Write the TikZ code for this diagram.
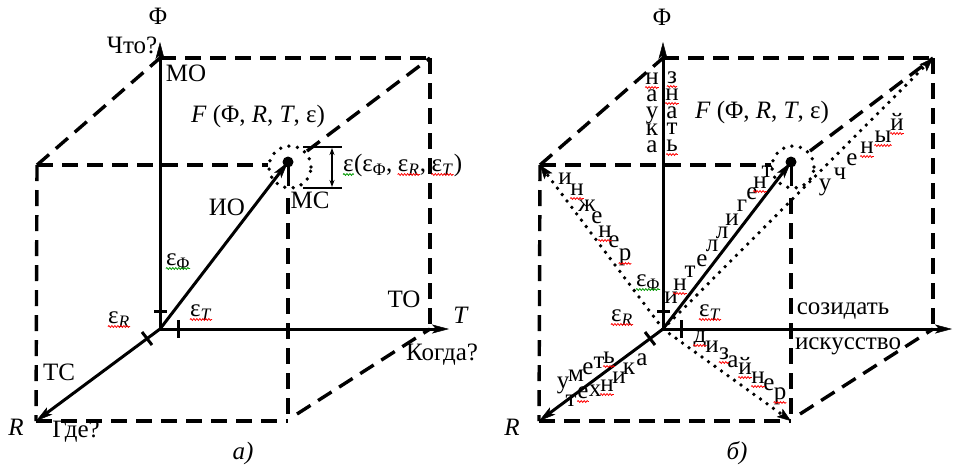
\documentclass[tikz,border=0pt]{standalone}
\usepackage{fontspec}
\setmainfont{Liberation Serif}
\usetikzlibrary{arrows.meta,decorations.pathmorphing,calc}
\tikzset{
  edge/.style={line width=3.4pt, dash pattern=on 16pt off 9pt},
  axis/.style={line width=3pt, -{Stealth[length=17pt,width=9pt,inset=4pt,line width=0.5pt]}},
  solidln/.style={line width=3pt},
  tickln/.style={line width=3pt},
  dotln/.style={line width=3.8pt, line cap=round, dash pattern=on 0pt off 8pt},
  dotarrow/.style={dotln, -{Stealth[length=14pt,width=10pt,inset=3pt,line width=0.5pt]}},
  dotc/.style={line width=3.8pt, line cap=round, dash pattern=on 0pt off 8.5pt},
  lbl/.style={inner sep=0pt, text height=0.66em, text depth=0pt},
  letter/.style={inner sep=0pt, text height=1ex, text depth=0pt},
  sqr/.style={draw=red, line width=0.8pt, decorate, decoration={snake, amplitude=0.9pt, segment length=3pt}},
  sqg/.style={sqr, draw=green!60!black},
}
\newcommand\squig[2]{\draw[#1] ([yshift=-3pt]#2.south west) -- ([yshift=-3pt]#2.south east);}
\begin{document}
\begin{tikzpicture}[x=1pt,y=-1pt,font=\fontsize{25pt}{29pt}\selectfont]
\useasboundingbox (0,0) rectangle (965,464);

\foreach \s/\p in {0/L,503/R}{
 \begin{scope}[xshift=\s pt]
  \coordinate (\p O) at (160,329);
  \coordinate (\p Ft) at (160,42);
  \coordinate (\p Tt) at (449,329);
  \coordinate (\p A) at (37,165);
  \coordinate (\p B) at (288,165);
  \coordinate (\p C) at (288,421);
  \coordinate (\p D) at (36,421);
  \coordinate (\p E) at (160,58);
  \coordinate (\p G) at (430,58);
  \coordinate (\p H) at (430,329);
  \coordinate (\p P) at (288,162);
  \coordinate (\p Pc) at (290,167);
  \coordinate (\p Bl) at (268,165);
  \coordinate (\p Bu) at (307,151);
  \coordinate (\p Bd) at (288,198);
  \coordinate (\p Pd) at (288,186);
  \coordinate (\p Cr) at (297,414);
  % dashed cube edges
  \draw[edge] (\p A) -- (\p D);
  \draw[edge] (\p D) -- (\p C);
  \draw[edge] (\p Bd) -- (\p C);
  \draw[edge] (\p A) -- (\p Bl);
  \draw[edge] (\p A) -- (\p E);
  \draw[edge] (\p E) -- (\p G);
  \draw[edge] (\p G) -- (\p H);
  \draw[edge] (\p Bu) -- (\p G);
  \draw[edge] (\p Cr) -- (\p H);
  % axes
  \draw[axis] (\p O) -- (\p Ft);
  \draw[axis] (\p O) -- (\p Tt);
  \draw[axis] (\p O) -- (\p D);
  \draw[axis] (\p O) -- (\p P);
  \draw[solidln] (\p P) -- (\p Pd);
  % ticks
  \draw[tickln] (154,311) -- (167,311);
  \draw[tickln] (178,320) -- (178,338);
  \draw[tickln] (142,332) -- (152,345);
  % point and tolerance circle
  \fill (\p P) circle (5.5pt);
  \draw[dotc] (\p Pc) circle (21pt);
 \end{scope}
}

% ---------- left panel ----------
\coordinate (bt1) at (303,147); \coordinate (bt2) at (342,147);
\coordinate (bb1) at (303,188); \coordinate (bb2) at (342,188);
\coordinate (bv1) at (332,148); \coordinate (bv2) at (332,187);
\draw[line width=2pt] (bt1) -- (bt2);
\draw[line width=2pt] (bb1) -- (bb2);
\draw[line width=1.2pt, {Stealth[length=7pt,width=5pt]}-{Stealth[length=7pt,width=5pt]}] (bv1) -- (bv2);

\node[lbl] (LPhi) at (158,21) {Φ};
\node[lbl] (Lwhat) at (132,50) {Что?};
\node[lbl] (LMO) at (186,78) {МО};
\node[lbl] (LF) at (258,119) {\textit{F} (Φ, \textit{R}, \textit{T}, ε)};
\node[lbl] (LIO) at (227,212) {ИО};
\node[lbl] (LMS) at (310,205) {МС};
\node[letter] (LeF) at (178,263) {ε\textsubscript{Φ}};
\node[letter] (LeT) at (201,314) {ε\textsubscript{\textit{T}}};
\node[letter] (LeR) at (119,321) {ε\textsubscript{\textit{R}}};
\node[lbl] (LTO) at (404,304) {ТО};
\node[lbl] (LT) at (461,320) {\textit{T}};
\node[lbl] (Lwhen) at (442,357) {Когда?};
\node[lbl] (LTS) at (59,377) {ТС};
\node[lbl] (LR) at (16,432) {\textit{R}};
\node[lbl] (Lwhere) at (76,434) {Где?};
\node[letter] (La) at (243,457) {\textit{а)}};

\node[letter, anchor=west] (Lb1) at (343,169) {ε};
\node[letter, anchor=base west] (Lb2) at (Lb1.base east) {(ε\textsubscript{Φ},};
\node[letter, anchor=base west] (Lb3) at ([xshift=5pt]Lb2.base east) {ε\textsubscript{\textit{R}}};
\node[letter, anchor=base west] (Lb4) at (Lb3.base east) {,};
\node[letter, anchor=base west] (Lb5) at ([xshift=5pt]Lb4.base east) {ε\textsubscript{\textit{T}}};
\node[letter, anchor=base west] (Lb6) at (Lb5.base east) {)};

\squig{sqg}{LeF}
\squig{sqr}{LeT}
\squig{sqr}{LeR}
\squig{sqg}{Lb1}
\squig{sqr}{Lb3}
\squig{sqr}{Lb5}

% ---------- right panel ----------
\draw[dotarrow] (RO) -- (RA);
\draw[dotarrow] (RO) -- (RC);
\draw[dotarrow] (RO) -- (RG);

\node[lbl] (RPhi) at (662,22) {Φ};
\node[lbl] (RF) at (762,115) {\textit{F} (Φ, \textit{R}, \textit{T}, ε)};
\node[letter] (ReF) at (648,284) {ε\textsubscript{Φ}};
\node[letter] (ReR) at (622,319) {ε\textsubscript{\textit{R}}};
\node[letter] (ReT) at (710,314) {ε\textsubscript{\textit{T}}};
\node[letter] (Rsoz) at (843,312) {созидать};
\node[letter] (Risk) at (848,347) {искусство};
\node[lbl] (RR) at (512,432) {\textit{R}};
\node[lbl] (RT) at (972,321) {\textit{T}};
\node[lbl] (Rb) at (737,456) {\textit{б)}};

\foreach \ch/\x/\y [count=\i] in {н/652/82, а/652/99, у/652/116, к/652/133, а/652/150}
  {\node[letter] (nk\i) at (\x,\y) {\ch};}
\foreach \ch/\x/\y [count=\i] in {з/672/81, н/672/98, а/672/116, т/672/132, ь/672/149}
  {\node[letter] (zn\i) at (\x,\y) {\ch};}
\foreach \ch/\x/\y [count=\i] in {и/565/182, н/577/193, ж/587/209, е/597/221, н/605/235, е/614/245, р/625/258}
  {\node[letter] (in\i) at (\x,\y) {\ch};}
\foreach \ch/\x/\y [count=\i] in {и/671/301, н/680/288, т/690/275, е/702/264, л/712/249, л/722/236, и/732/223, г/742/209, е/752/197, н/760/186, т/767/175}
  {\node[letter] (it\i) at (\x,\y) {\ch};}
\foreach \ch/\x/\y [count=\i] in {у/825/188, ч/840/177, е/852/163, н/867/151, ы/883/140, й/897/128}
  {\node[letter] (uc\i) at (\x,\y) {\ch};}
\foreach \ch/\x/\y [count=\i] in {у/563/386, м/576/379, е/588/372, т/599/366, ь/609/361}
  {\node[letter] (um\i) at (\x,\y) {\ch};}
\foreach \ch/\x/\y [count=\i] in {т/571/404, е/583/396, х/595/394, н/607/389, и/619/381, к/629/372, а/642/363}
  {\node[letter] (te\i) at (\x,\y) {\ch};}
\foreach \ch/\x/\y [count=\i] in {д/700/340, и/712/350, з/724/357, а/733/365, й/745/372, н/758/381, е/769/388, р/780/397}
  {\node[letter] (di\i) at (\x,\y) {\ch};}

\squig{sqg}{ReF}
\squig{sqr}{ReR}
\squig{sqr}{ReT}
\squig{sqr}{nk1}
\squig{sqr}{zn1}
\squig{sqr}{zn2}
\squig{sqr}{zn5}
\squig{sqr}{in2}
\squig{sqr}{in5}
\squig{sqr}{in7}
\squig{sqr}{it2}
\squig{sqr}{it10}
\squig{sqr}{uc4}
\squig{sqr}{uc5}
\squig{sqr}{uc6}
\squig{sqr}{um5}
\squig{sqr}{te2}
\squig{sqr}{te4}
\squig{sqr}{di1}
\squig{sqr}{di3}
\squig{sqr}{di5}
\squig{sqr}{di6}
\squig{sqr}{di8}
\end{tikzpicture}
\end{document}
